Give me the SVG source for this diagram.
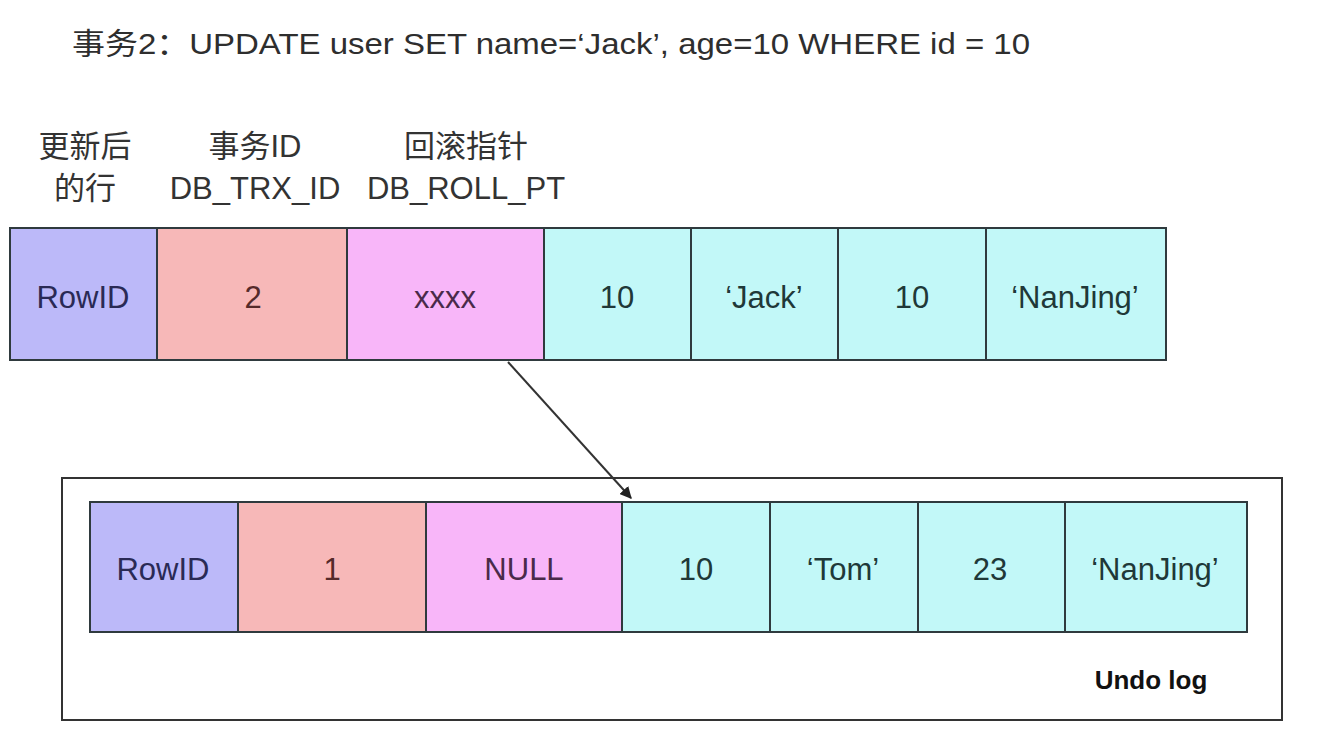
<svg xmlns="http://www.w3.org/2000/svg" width="1332" height="754" viewBox="0 0 1332 754">
<defs>
<style>
.t{font-family:"Liberation Sans","Noto Sans CJK SC",sans-serif;fill:#2e2e2e;font-size:30px}
.c{font-family:"Liberation Sans","Noto Sans CJK SC",sans-serif;font-size:31px;text-anchor:middle}
.h{font-family:"Liberation Sans","Noto Sans CJK SC",sans-serif;font-size:31px;text-anchor:middle;fill:#333}
.cell{stroke:#2f3a3e;stroke-width:2}
.p{fill:#bcb9f9}.r{fill:#f7b8b8}.m{fill:#f8b6f9}.y{fill:#c2f8f8}
</style>
<marker id="ah" viewBox="0 0 10 10" refX="9" refY="5" markerWidth="12" markerHeight="12" markerUnits="userSpaceOnUse" orient="auto"><path d="M0,0 L10,5 L0,10 z" fill="#222"/></marker>
</defs>
<rect width="1332" height="754" fill="#fff"/>
<text class="t" x="72" y="54" textLength="958" lengthAdjust="spacingAndGlyphs">事务2：UPDATE user SET name=‘Jack’, age=10 WHERE id = 10</text>
<g id="headers">
<text class="h" x="85" y="157">更新后</text>
<text class="h" x="85" y="199">的行</text>
<text class="h" x="255" y="157">事务ID</text>
<text class="h" x="255" y="199">DB_TRX_ID</text>
<text class="h" x="466" y="157">回滚指针</text>
<text class="h" x="466" y="199">DB_ROLL_PT</text>
</g>
<g id="current-row">
<rect class="cell p" x="10" y="228" width="147" height="132"/>
<rect class="cell r" x="157" y="228" width="190" height="132"/>
<rect class="cell m" x="347" y="228" width="197" height="132"/>
<rect class="cell y" x="544" y="228" width="147" height="132"/>
<rect class="cell y" x="691" y="228" width="147" height="132"/>
<rect class="cell y" x="838" y="228" width="148" height="132"/>
<rect class="cell y" x="986" y="228" width="180" height="132"/>
<text class="c" x="83" y="308" fill="#2a2a55">RowID</text>
<text class="c" x="253" y="308" fill="#552a2a">2</text>
<text class="c" x="445" y="308" fill="#4a2a4a">xxxx</text>
<text class="c" x="617" y="308" fill="#203838">10</text>
<text class="c" x="764" y="308" fill="#203838">‘Jack’</text>
<text class="c" x="912" y="308" fill="#203838">10</text>
<text class="c" x="1075" y="308" fill="#203838">‘NanJing’</text>
</g>
<g id="undo-log">
<rect x="62" y="478" width="1220" height="242" fill="none" stroke="#333" stroke-width="2"/>
<rect class="cell p" x="90" y="502" width="148" height="130"/>
<rect class="cell r" x="238" y="502" width="188" height="130"/>
<rect class="cell m" x="426" y="502" width="196" height="130"/>
<rect class="cell y" x="622" y="502" width="148" height="130"/>
<rect class="cell y" x="770" y="502" width="148" height="130"/>
<rect class="cell y" x="918" y="502" width="147" height="130"/>
<rect class="cell y" x="1065" y="502" width="182" height="130"/>
<text class="c" x="163" y="580" fill="#2a2a55">RowID</text>
<text class="c" x="332" y="580" fill="#552a2a">1</text>
<text class="c" x="524" y="580" fill="#4a2a4a">NULL</text>
<text class="c" x="696" y="580" fill="#203838">10</text>
<text class="c" x="843" y="580" fill="#203838">‘Tom’</text>
<text class="c" x="990" y="580" fill="#203838">23</text>
<text class="c" x="1155" y="580" fill="#203838">‘NanJing’</text>
<text x="1151" y="689" text-anchor="middle" font-family="Liberation Sans, sans-serif" font-weight="bold" font-size="26" fill="#111">Undo log</text>
</g>
<g id="connectors">
<line x1="508" y1="362" x2="631" y2="498" stroke="#333" stroke-width="2" marker-end="url(#ah)"/>
</g>
</svg>
